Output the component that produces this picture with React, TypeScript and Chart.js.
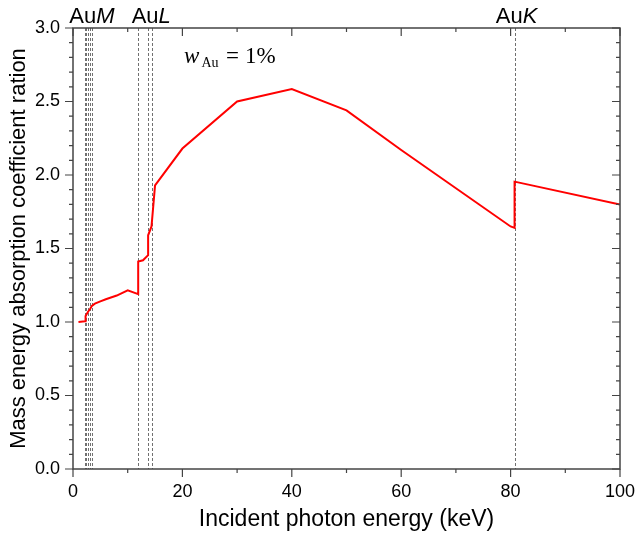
import React, { useEffect, useRef } from "react";
import { Chart, registerables } from "chart.js";

Chart.register(...registerables);

// ---- Data ----
const energies = [1.0, 2.2, 2.3, 2.75, 3.15, 3.45, 4, 5, 6, 8, 10, 11.918, 11.918, 12.8, 13.734, 13.734, 14.353, 15, 20, 30, 40, 50, 60, 80, 80.725, 80.725, 100];
const ratios = [1.0, 1.005, 1.04, 1.07, 1.09, 1.11, 1.125, 1.14, 1.155, 1.18, 1.215, 1.19, 1.412, 1.42, 1.455, 1.59, 1.65, 1.93, 2.18, 2.5, 2.585, 2.44, 2.17, 1.65, 1.64, 1.955, 1.8];

const edgesM = [2.206, 2.291, 2.743, 3.148, 3.425];
const edgesL = [11.918, 13.734, 14.353];
const edgesK = [80.725];

const edgeLabels = ["M", "L", "K"];
const edgeLabelCenters = [3.45, 14.3, 81.1];

const xMin = 0, xMax = 100, xMajor = 20, xMinor = 10;
const yMin = 0, yMax = 3, yMajor = 0.5, yMinor = 0.1;

const xTitle = "Incident photon energy (keV)";
const yTitle = "Mass energy absorption coefficient ration";

const SANS = '"Liberation Sans", Arial, sans-serif';
const SERIF = '"Liberation Serif", "Times New Roman", serif';

function range(a: number, b: number, step: number) {
  const out: number[] = [];
  const n = Math.round((b - a) / step);
  for (let i = 0; i <= n; i++) out.push(+(a + i * step).toFixed(6));
  return out;
}

const edgePlugin = {
  id: "edges",
  beforeDatasetsDraw(chart: any) {
    const { ctx, chartArea, scales } = chart;
    const x = scales.x;
    ctx.save();
    ctx.strokeStyle = "#707070";
    ctx.lineWidth = 1;
    ctx.setLineDash([3, 2]);
    [...edgesM, ...edgesL, ...edgesK].forEach((e) => {
      const px = Math.round(x.getPixelForValue(e)) + 0.5;
      ctx.beginPath();
      ctx.moveTo(px, chartArea.top);
      ctx.lineTo(px, chartArea.bottom);
      ctx.stroke();
    });
    ctx.restore();
  },
  afterDraw(chart: any) {
    const { ctx, chartArea, scales } = chart;
    const x = scales.x;
    const y = scales.y;
    const { left, right, top, bottom } = chartArea;
    ctx.save();
    ctx.strokeStyle = "#444";
    ctx.lineWidth = 1.5;
    ctx.setLineDash([]);
    ctx.strokeRect(left, top, right - left, bottom - top);
    ctx.lineWidth = 1.2;
    // x ticks
    range(xMin, xMax, xMinor).forEach((v) => {
      const isMajor = Math.abs(v / xMajor - Math.round(v / xMajor)) < 1e-6;
      const len = isMajor ? 8 : 4;
      const px = x.getPixelForValue(v);
      ctx.beginPath();
      ctx.moveTo(px, bottom);
      ctx.lineTo(px, bottom + len);
      ctx.moveTo(px, top);
      ctx.lineTo(px, top + len);
      ctx.stroke();
    });
    // y ticks
    range(yMin, yMax, yMinor).forEach((v) => {
      const isMajor = Math.abs(v / yMajor - Math.round(v / yMajor)) < 1e-6;
      const len = isMajor ? 8 : 4;
      const py = y.getPixelForValue(v);
      ctx.beginPath();
      ctx.moveTo(left, py);
      ctx.lineTo(left - len, py);
      ctx.moveTo(right, py);
      ctx.lineTo(right - len, py);
      ctx.stroke();
    });
    // edge labels
    ctx.fillStyle = "#000";
    ctx.textBaseline = "alphabetic";
    ctx.textAlign = "left";
    edgeLabels.forEach((lab, i) => {
      ctx.font = `22px ${SANS}`;
      const w1 = ctx.measureText("Au").width;
      ctx.font = `italic 22px ${SANS}`;
      const w2 = ctx.measureText(lab).width;
      const cx = x.getPixelForValue(edgeLabelCenters[i]);
      const sx = cx - (w1 + w2) / 2;
      ctx.font = `22px ${SANS}`;
      ctx.fillText("Au", sx, top - 5);
      ctx.font = `italic 22px ${SANS}`;
      ctx.fillText(lab, sx + w1, top - 5);
    });
    // w_Au = 1%
    const bx = left + 111;
    const by = top + 35;
    ctx.font = `italic 23px ${SERIF}`;
    ctx.fillText("w", bx, by);
    ctx.font = `14px ${SERIF}`;
    ctx.fillText("Au", bx + 17.5, by + 3.5);
    ctx.font = `23px ${SERIF}`;
    ctx.fillText("=", bx + 42, by);
    ctx.fillText("1%", bx + 61, by);
    ctx.restore();
  },
};

export default function App() {
  const ref = useRef<HTMLCanvasElement | null>(null);
  useEffect(() => {
    if (!ref.current) return;
    const data = energies.map((e, i) => ({ x: e, y: ratios[i] }));
    const chart = new Chart(ref.current, {
      type: "line",
      data: {
        datasets: [
          {
            data,
            borderColor: "#ff0000",
            borderWidth: 2,
            pointRadius: 0,
            tension: 0,
            fill: false,
          },
        ],
      },
      options: {
        animation: false,
        responsive: false,
        devicePixelRatio: 1,
        events: [],
        layout: { padding: { top: 28, right: 15, left: 0, bottom: 0 } },
        plugins: { legend: { display: false }, tooltip: { enabled: false } },
        scales: {
          x: {
            type: "linear",
            min: xMin,
            max: xMax,
            afterFit: (s: any) => {
              s.height = 67;
              s.paddingLeft = 0;
              s.paddingRight = 0;
            },
            afterBuildTicks: (s: any) => {
              s.ticks = range(xMin, xMax, xMajor).map((v) => ({ value: v }));
            },
            grid: { display: true, drawOnChartArea: false, drawTicks: false, color: "transparent" },
            border: { display: false },
            ticks: {
              color: "#000",
              font: { family: SANS, size: 18 },
              padding: 12,
              maxRotation: 0,
              callback: (v: any) => String(v),
            },
            title: {
              display: true,
              text: xTitle,
              color: "#000",
              font: { family: SANS, size: 23 },
              padding: { top: 0, bottom: 3 },
            },
          },
          y: {
            type: "linear",
            min: yMin,
            max: yMax,
            afterFit: (s: any) => {
              s.width = 73;
              s.paddingTop = 0;
              s.paddingBottom = 0;
            },
            afterBuildTicks: (s: any) => {
              s.ticks = range(yMin, yMax, yMajor).map((v) => ({ value: v }));
            },
            grid: { display: true, drawOnChartArea: false, drawTicks: false, color: "transparent" },
            border: { display: false },
            ticks: {
              color: "#000",
              font: { family: SANS, size: 18 },
              padding: 13,
              callback: (v: any) => Number(v).toFixed(1),
            },
            title: {
              display: true,
              text: yTitle,
              color: "#000",
              font: { family: SANS, size: 22 },
              padding: { top: 6, bottom: 0 },
            },
          },
        },
      },
      plugins: [edgePlugin],
    });
    return () => chart.destroy();
  }, []);
  return (
    <div style={{ position: "absolute", left: 0, top: 0, width: 635, height: 536, background: "#fff" }}>
      <canvas ref={ref} width={635} height={536} style={{ display: "block" }} />
    </div>
  );
}
